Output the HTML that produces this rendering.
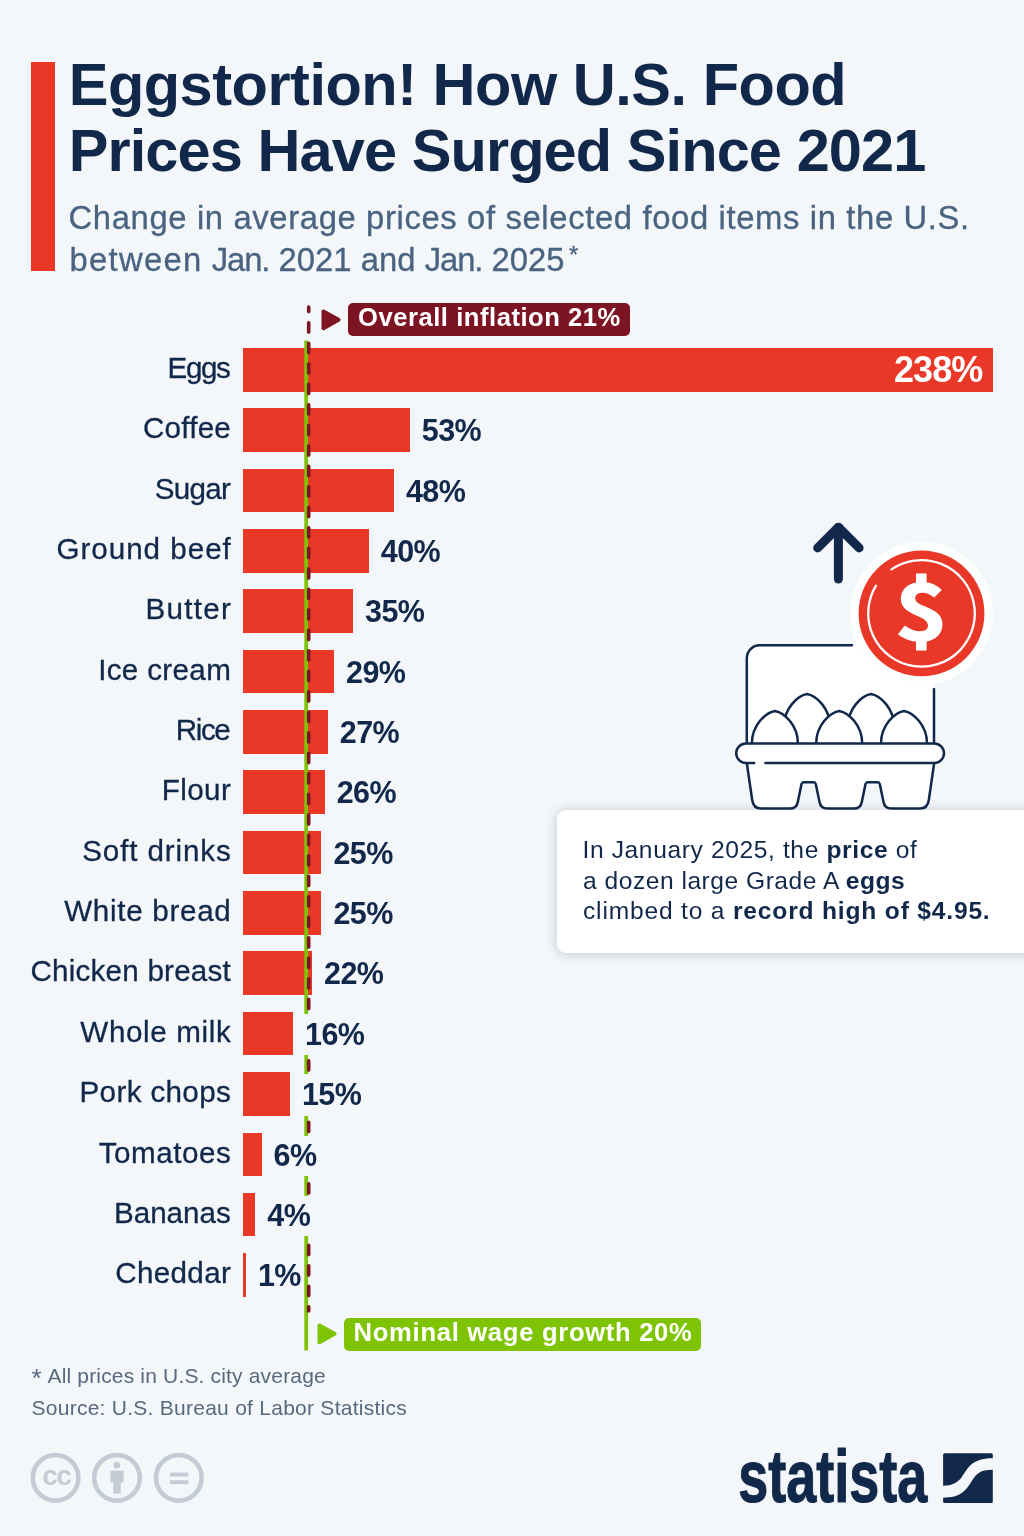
<!DOCTYPE html>
<html lang="en">
<head>
<meta charset="utf-8">
<title>Eggstortion! How U.S. Food Prices Have Surged Since 2021</title>
<style>
html,body{margin:0;padding:0;background:#F4F7FA;}
body{width:1024px;height:1536px;overflow:hidden;}
#page{position:relative;width:1024px;height:1536px;background:#F4F7FA;overflow:hidden;font-family:"Liberation Sans",Arial,sans-serif;color:#11284A;}
.accent{position:absolute;left:31px;top:62px;width:23.5px;height:209px;background:#E93828;}
h1{position:absolute;left:68.7px;top:52.4px;margin:0;font-weight:bold;font-size:59.5px;line-height:66px;letter-spacing:0px;white-space:nowrap;color:#11284A;}
h1 span{display:block;}
h1 .t1{letter-spacing:-0.48px;}
h1 .t2{letter-spacing:-0.91px;}
.sub{position:absolute;left:68.5px;top:196.5px;margin:0;font-size:32.8px;line-height:42px;white-space:nowrap;color:#4A6380;}
.sub > span{display:block;}
.sub .s1{letter-spacing:0.63px;}
.sub .s2{letter-spacing:0.03px;margin-left:1px;}
.sub .w1{letter-spacing:1.3px;}
.sub .w2{letter-spacing:-1.1px;}
.sub,.cat{-webkit-text-stroke:0.3px currentColor;}
.sub sup{font-size:23.5px;line-height:0;vertical-align:baseline;position:relative;top:-7.2px;margin-left:4.5px;letter-spacing:0;}
.row{position:absolute;left:0;width:1024px;height:43.7px;}
.cat{position:absolute;right:793.2px;top:0;height:43.7px;line-height:39.7px;font-size:29.6px;white-space:nowrap;color:#11284A;}
.bar{position:absolute;left:242.7px;top:0;height:43.7px;background:#E93828;}
.val{position:absolute;top:0;height:43.7px;line-height:45.3px;font-size:30.5px;letter-spacing:-0.6px;font-weight:bold;white-space:nowrap;color:#11284A;z-index:3;padding:0 3px;}
.val.mask{background:linear-gradient(to bottom,rgba(244,247,250,0) 2.5px,#F4F7FA 2.5px);}
.val.big{font-size:36px;letter-spacing:-1px;color:#fff;width:88px;text-align:right;line-height:44.7px;}
#lines{position:absolute;left:0;top:0;z-index:2;}
.tag{position:absolute;height:32.5px;line-height:29.2px;border-radius:5px;color:#fff;font-weight:bold;font-size:25.6px;white-space:nowrap;z-index:4;box-sizing:border-box;padding-left:10px;}
.tag.infl{left:348px;top:303.2px;width:282px;background:#7C1424;letter-spacing:0.53px;}
.tag.wage{left:343.6px;top:1317.7px;width:357.2px;height:33.2px;background:#7FC404;letter-spacing:0.7px;}
#illu{position:absolute;left:0;top:0;z-index:5;}
.callout{position:absolute;left:556.5px;top:810px;width:500px;height:142.8px;background:#fff;border-radius:9px;box-shadow:0 1px 12px 1px rgba(15,39,65,0.20);z-index:4;}
.callout p{position:absolute;left:26.5px;top:25.4px;margin:0;font-size:24.6px;line-height:30.2px;white-space:nowrap;color:#11284A;}
.callout p span{display:block;}
.callout .c1{letter-spacing:0.61px;margin-left:-0.5px;}
.callout .c2{letter-spacing:0.51px;}
.callout .c3{letter-spacing:0.81px;}
.foot{position:absolute;left:31.5px;margin:0;font-size:21px;line-height:26px;letter-spacing:0.26px;white-space:nowrap;color:#56697F;}
.foot .ast{font-size:26px;line-height:0;position:relative;top:3.5px;margin-right:1px;letter-spacing:0;}
.foot.f1{letter-spacing:0.17px;}
#cc{position:absolute;left:0;top:1440px;}
#logo{position:absolute;left:720px;top:1430px;}
</style>
</head>
<body>
<div id="page">
<div class="accent"></div>
<h1><span class="t1">Eggstortion! How U.S. Food</span><span class="t2">Prices Have Surged Since 2021</span></h1>
<p class="sub"><span class="s1">Change in average prices of selected food items in the U.S.</span><span class="s2"><span class="w1">between</span> <span class="w2">Jan.</span> 2021 and <span class="w2">Jan.</span> 2025<sup>*</sup></span></p>

<div class="tag infl">Overall inflation 21%</div>
<div class="row" style="top:347.9px"><span class="cat" style="letter-spacing:-1.4px;margin-right:1.4px">Eggs</span><span class="bar" style="width:750.4px"></span><span class="val big" style="left:891.1px">238%</span></div>
<div class="row" style="top:408.2px"><span class="cat" style="letter-spacing:0.25px;margin-right:-0.25px">Coffee</span><span class="bar" style="width:167.1px"></span><span class="val" style="left:418.8px">53%</span></div>
<div class="row" style="top:468.6px"><span class="cat" style="letter-spacing:-0.75px;margin-right:0.75px">Sugar</span><span class="bar" style="width:151.3px"></span><span class="val" style="left:403.0px">48%</span></div>
<div class="row" style="top:529.0px"><span class="cat" style="letter-spacing:0.98px;margin-right:-0.98px">Ground beef</span><span class="bar" style="width:126.1px"></span><span class="val" style="left:377.8px">40%</span></div>
<div class="row" style="top:589.3px"><span class="cat" style="letter-spacing:1.25px;margin-right:-1.25px">Butter</span><span class="bar" style="width:110.4px"></span><span class="val" style="left:362.1px">35%</span></div>
<div class="row" style="top:649.6px"><span class="cat" style="letter-spacing:0.34px;margin-right:-0.34px">Ice cream</span><span class="bar" style="width:91.4px"></span><span class="val" style="left:343.1px">29%</span></div>
<div class="row" style="top:710.0px"><span class="cat" style="letter-spacing:-1.4px;margin-right:1.4px">Rice</span><span class="bar" style="width:85.1px"></span><span class="val" style="left:336.8px">27%</span></div>
<div class="row" style="top:770.3px"><span class="cat" style="letter-spacing:0.38px;margin-right:-0.38px">Flour</span><span class="bar" style="width:82.0px"></span><span class="val" style="left:333.7px">26%</span></div>
<div class="row" style="top:830.7px"><span class="cat" style="letter-spacing:0.88px;margin-right:-0.88px">Soft drinks</span><span class="bar" style="width:78.8px"></span><span class="val" style="left:330.5px">25%</span></div>
<div class="row" style="top:891.0px"><span class="cat" style="letter-spacing:0.7px;margin-right:-0.7px">White bread</span><span class="bar" style="width:78.8px"></span><span class="val" style="left:330.5px">25%</span></div>
<div class="row" style="top:951.4px"><span class="cat" style="letter-spacing:0.23px;margin-right:-0.23px">Chicken breast</span><span class="bar" style="width:69.4px"></span><span class="val" style="left:321.1px">22%</span></div>
<div class="row" style="top:1011.8px"><span class="cat" style="letter-spacing:0.64px;margin-right:-0.64px">Whole milk</span><span class="bar" style="width:50.4px"></span><span class="val mask" style="left:302.1px">16%</span></div>
<div class="row" style="top:1072.1px"><span class="cat" style="letter-spacing:0.36px;margin-right:-0.36px">Pork chops</span><span class="bar" style="width:47.3px"></span><span class="val mask" style="left:299.0px">15%</span></div>
<div class="row" style="top:1132.5px"><span class="cat" style="letter-spacing:0.54px;margin-right:-0.54px">Tomatoes</span><span class="bar" style="width:18.9px"></span><span class="val mask" style="left:270.6px">6%</span></div>
<div class="row" style="top:1192.8px"><span class="cat" style="letter-spacing:0.0px;margin-right:-0.0px">Bananas</span><span class="bar" style="width:12.6px"></span><span class="val mask" style="left:264.3px">4%</span></div>
<div class="row" style="top:1253.2px"><span class="cat" style="letter-spacing:0.33px;margin-right:-0.33px">Cheddar</span><span class="bar" style="width:3.2px"></span><span class="val" style="left:254.9px">1%</span></div>
<svg id="lines" width="1024" height="1536" viewBox="0 0 1024 1536">
<line x1="306.2" y1="340.5" x2="306.2" y2="1350.5" stroke="#7FC404" stroke-width="3.8"/>
<line x1="308.7" y1="307" x2="308.7" y2="1311" stroke="#7C1424" stroke-width="3.6" stroke-linecap="round" stroke-dasharray="9.2 11.3" stroke-dashoffset="4.6"/>
<path d="M323.5 311.5 L338.5 319.8 L323.5 328.2 Z" fill="#7C1424" stroke="#7C1424" stroke-width="4" stroke-linejoin="round"/>
<path d="M319.5 1325.5 L334.5 1333.8 L319.5 1342.2 Z" fill="#7FC404" stroke="#7FC404" stroke-width="4" stroke-linejoin="round"/>
</svg>
<div class="tag wage">Nominal wage growth 20%</div>

<svg id="illu" width="1024" height="1536" viewBox="0 0 1024 1536">
<g fill="none" stroke="#11284A" stroke-width="9" stroke-linecap="round" stroke-linejoin="round">
<path d="M838.4 579.1 L838.4 527.5"/>
<path d="M817.7 547.9 L838.4 527.2 L859.1 547.9"/>
</g>
<path d="M746.8 743.4 L746.8 658.3 A13 13 0 0 1 759.8 645.3 L934 645.3 L934 743.4 Z" fill="#fff"/>
<g fill="none" stroke="#11284A" stroke-width="2.5" stroke-linecap="round" stroke-linejoin="round">
<path d="M746.8 743.4 L746.8 658.3 A13 13 0 0 1 759.8 645.3 L852 645.3"/>
<path d="M934 689 L934 743.4"/>
</g>
<g fill="#fff" stroke="#11284A" stroke-width="2.5" stroke-linejoin="round">
<path d="M784,743.4 L784,726.5 C784,708 798,695.6 807,694 C816,695.6 830,708 830,726.5 L830,743.4"/>
<path d="M848,743.4 L848,726.5 C848,708 862,695.6 871,694 C880,695.6 894,708 894,726.5 L894,743.4"/>
<path d="M751.9,743.4 C751.9,724.9 765.9,712.5 774.9,710.9 C783.9,712.5 797.9,724.9 797.9,743.4"/>
<path d="M816.2,743.4 C816.2,724.9 830.2,712.5 839.2,710.9 C848.2,712.5 862.2,724.9 862.2,743.4"/>
<path d="M881,743.4 C881,724.9 895,712.5 904,710.9 C913,712.5 927,724.9 927,743.4"/>
</g>
<path d="M746.8 763 L752.2 800 Q753.4 808.6 761 808.6 L790 808.6 Q796.5 808.6 797.8 802 L801.5 784 Q802 782.3 803.6 782.3 L813.6 782.3 Q815.3 782.3 815.8 784 L819.5 802 Q820.8 808.6 827.5 808.6 L854 808.6 Q860.5 808.6 861.8 802 L865.5 784 Q866 782.3 867.6 782.3 L877.6 782.3 Q879.3 782.3 879.8 784 L883.5 802 Q884.8 808.6 891.5 808.6 L920 808.6 Q927.6 808.6 928.8 800 L934.2 763 Z" fill="#fff"/>
<path d="M746.8 763 L752.2 800 Q753.4 808.6 761 808.6 L790 808.6 Q796.5 808.6 797.8 802 L801.5 784 Q802 782.3 803.6 782.3 L813.6 782.3 Q815.3 782.3 815.8 784 L819.5 802 Q820.8 808.6 827.5 808.6 L854 808.6 Q860.5 808.6 861.8 802 L865.5 784 Q866 782.3 867.6 782.3 L877.6 782.3 Q879.3 782.3 879.8 784 L883.5 802 Q884.8 808.6 891.5 808.6 L920 808.6 Q927.6 808.6 928.8 800 L934.2 763" fill="none" stroke="#11284A" stroke-width="2.5" stroke-linecap="round" stroke-linejoin="round"/>
<rect x="736.2" y="743.4" width="207.8" height="19.6" rx="9.8" fill="#fff"/>
<path d="M765.4 763 L934.2 763 A9.8 9.8 0 0 0 934.2 743.4 L746 743.4 A9.8 9.8 0 0 0 746 763 L754.2 763" fill="none" stroke="#11284A" stroke-width="2.5" stroke-linecap="round"/>
<circle cx="921.5" cy="613.4" r="71.5" fill="#FDFEFE"/>
<circle cx="921.5" cy="613.4" r="62.9" fill="#E93828"/>
<path d="M891.46 569.37 A53.3 53.3 0 1 1 876.01 585.63" fill="none" stroke="#fff" stroke-width="2.3" stroke-linecap="round"/>
<text transform="translate(921.2 640) scale(1.16 1)" x="0" y="0" font-family="'Noto Sans CJK SC','Liberation Sans',sans-serif" font-weight="bold" font-size="77.5" fill="#fff" stroke="#fff" stroke-width="1.4" stroke-linejoin="round" text-anchor="middle">$</text>
</svg>

<div class="callout"><p><span class="c1">In January 2025, the <b>price</b> of</span><span class="c2">a dozen large Grade A <b>eggs</b></span><span class="c3">climbed to a <b>record high of $4.95.</b></span></p></div>

<p class="foot f1" style="top:1363.2px"><span class="ast">*</span> All prices in U.S. city average</p>
<p class="foot f2" style="top:1395.2px">Source: U.S. Bureau of Labor Statistics</p>

<svg id="cc" width="240" height="96" viewBox="0 1440 240 96">
<g fill="none" stroke="#C3CCD4" stroke-width="4.6">
<circle cx="55.6" cy="1477.8" r="22.8"/>
<circle cx="117" cy="1477.8" r="22.8"/>
<circle cx="178.8" cy="1477.8" r="22.8"/>
</g>
<text x="56.3" y="1485.4" font-family="'Liberation Sans',Arial,sans-serif" font-weight="bold" font-size="28" fill="#C3CCD4" text-anchor="middle" letter-spacing="-1.6">cc</text>
<g fill="#C3CCD4">
<circle cx="116.8" cy="1465.2" r="3.4"/>
<rect x="110.5" y="1470.6" width="13.2" height="11.8"/>
<rect x="113.4" y="1482" width="7.3" height="11.6"/>
<rect x="170.1" y="1472.6" width="18.3" height="3.9"/>
<rect x="170.1" y="1480.2" width="18.3" height="4"/>
</g>
</svg>
<svg id="logo" width="304" height="106" viewBox="720 1430 304 106">
<text x="738.3" y="1502.2" font-family="'Liberation Sans',Arial,sans-serif" font-weight="bold" font-size="74" fill="#11284A" textLength="189" lengthAdjust="spacingAndGlyphs" stroke="#11284A" stroke-width="1.2" stroke-linejoin="round">statista</text>
<rect x="943.1" y="1453.2" width="49.7" height="49.7" rx="1.5" fill="#11284A"/>
<path d="M942.5 1485.7 L943.1 1485.7 C952 1485.7 957.5 1483 962 1476.8 C967.5 1469 971 1458.2 992.8 1458.2 L993.4 1458.2 L993.4 1469.7 L992.8 1469.7 C980 1469.7 976.5 1473.5 971.5 1481.5 C966 1490.5 960.5 1497.7 943.1 1497.7 L942.5 1497.7 Z" fill="#F4F7FA"/>
</svg>
</div>
</body>
</html>
